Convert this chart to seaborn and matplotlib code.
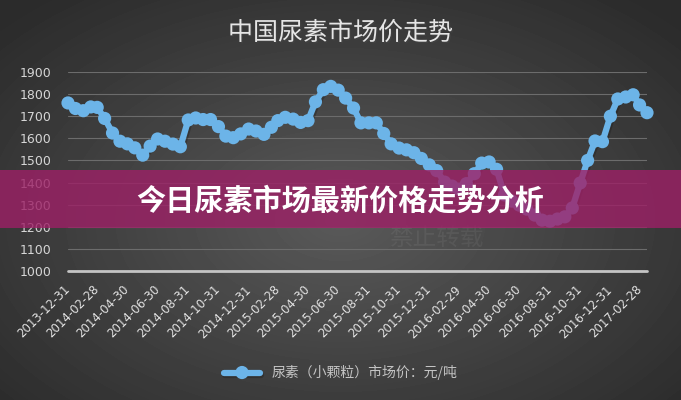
import numpy as np
import pandas as pd
import matplotlib
matplotlib.use('Agg')
import matplotlib.pyplot as plt
import matplotlib.patheffects as pe
from matplotlib.patches import Rectangle
import seaborn as sns

# urea (small granule) market price, yuan/ton, read at half-month steps
prices = [1760, 1735, 1725, 1742, 1740, 1690, 1624, 1587, 1575, 1557,
          1524, 1565, 1597, 1587, 1574, 1562, 1683, 1692, 1685, 1685,
          1653, 1610, 1603, 1620, 1642, 1633, 1618, 1650, 1680, 1695,
          1687, 1672, 1680, 1765, 1820, 1835, 1818, 1782, 1737, 1670,
          1670, 1670, 1622, 1575, 1556, 1548, 1535, 1509, 1480, 1454,
          1402, 1384, 1370, 1395, 1440, 1488, 1493, 1460, 1344, 1316,
          1298, 1280, 1253, 1230, 1225, 1235, 1245, 1285, 1398, 1500,
          1588, 1585, 1700, 1778, 1787, 1797, 1751, 1716]

tick_labels = ['2013-12-31', '2014-02-28', '2014-04-30', '2014-06-30',
               '2014-08-31', '2014-10-31', '2014-12-31', '2015-02-28',
               '2015-04-30', '2015-06-30', '2015-08-31', '2015-10-31',
               '2015-12-31', '2016-02-29', '2016-04-30', '2016-06-30',
               '2016-08-31', '2016-10-31', '2016-12-31', '2017-02-28']
y_ticks = [1000, 1100, 1200, 1300, 1400, 1500, 1600, 1700, 1800, 1900]

title = '中国尿素市场价走势'
banner = '今日尿素市场最新价格走势分析'
series_name = '尿素（小颗粒）市场价：元/吨'

# dates: 15th and month end of every month
months = pd.date_range('2014-01-01', '2017-02-01', freq='MS')
dates = [pd.Timestamp('2013-12-31')]
for m in months:
    dates.append(m + pd.Timedelta(days=14))
    dates.append(m + pd.offsets.MonthEnd(0))
dates.append(pd.Timestamp('2017-03-15'))
df = pd.DataFrame({'date': dates, 'price': prices})

sns.set_theme(style='dark')
plt.rcParams['font.family'] = ['Noto Sans CJK SC', 'DejaVu Sans']

fig = plt.figure(figsize=(6.81, 4.0), dpi=100)

# radial dark background
bg = fig.add_axes([0, 0, 1, 1], zorder=-10)
yy, xx = np.mgrid[0:1:400j, 0:1:681j]
r = np.sqrt(((xx - 0.5) / 0.75) ** 2 + ((yy - 0.55) / 0.8) ** 2)
shade = np.clip(0.35 - 0.2 * r, 0.17, 0.35)
bg.imshow(shade, cmap='gray', vmin=0, vmax=1, aspect='auto', extent=[0, 1, 0, 1])
bg.axis('off')

ax = fig.add_axes([68 / 681, 1 - 271 / 400, (647 - 68) / 681, (271 - 72) / 400])
ax.set_facecolor('none')

sns.lineplot(data=df, x='date', y='price', ax=ax, color='#6cb4e8',
             linewidth=4.5, marker='o', markersize=9.5, markeredgewidth=0,
             label=series_name, legend=False, clip_on=False,
             path_effects=[pe.SimpleLineShadow(offset=(1, -1.5), alpha=0.35),
                           pe.Normal()])

ax.set_xlim(df['date'].iloc[0], df['date'].iloc[-1])
ax.set_ylim(1000, 1900)
ax.set_yticks(y_ticks)
ax.set_xticks(pd.to_datetime(tick_labels))
ax.set_xticklabels(tick_labels, rotation=45, ha='right', va='center',
                   rotation_mode='anchor', family='DejaVu Sans',
                   fontsize=8.5, color='#e2e2e2')
for t in ax.get_yticklabels():
    t.set_family('DejaVu Sans')
ax.tick_params(axis='y', labelsize=9, labelcolor='#d6d6d6', length=0, pad=12)
ax.tick_params(axis='x', length=0, pad=12)
ax.set_xlabel('')
ax.set_ylabel('')
ax.grid(False)
ax.yaxis.grid(True, color='#6c6c6c', linewidth=0.8)
ax.xaxis.grid(False)
for s in ax.spines.values():
    s.set_visible(False)
ax.axhline(1000, color='#c4c4c4', linewidth=2, clip_on=False, zorder=1)

handles, labels = ax.get_legend_handles_labels()
leg = fig.legend(handles, labels, loc='center', bbox_to_anchor=(0.5, 0.068),
                 frameon=False, handlelength=2.6, fontsize=10,
                 labelcolor='#c4c4c4')

fig.text(0.5, 1 - 33 / 400, title, ha='center', va='center', fontsize=18,
         color='#e6e6e6',
         path_effects=[pe.withSimplePatchShadow(offset=(1, -1), alpha=0.6)])

# watermark
fig.text(436 / 681, 1 - 238 / 400, '禁止转载', ha='center', va='center',
         fontsize=17, color='white', alpha=0.06)

fig.add_artist(Rectangle((0, 1 - 228 / 400), 1, 58 / 400,
                         transform=fig.transFigure, facecolor='#9d2066',
                         alpha=0.8, edgecolor='none', zorder=5))
fig.text(0.5, 1 - 201 / 400, banner, ha='center', va='center', fontsize=21,
         fontweight='bold', color='white', zorder=6)

fig.savefig('out.png', dpi=100)
